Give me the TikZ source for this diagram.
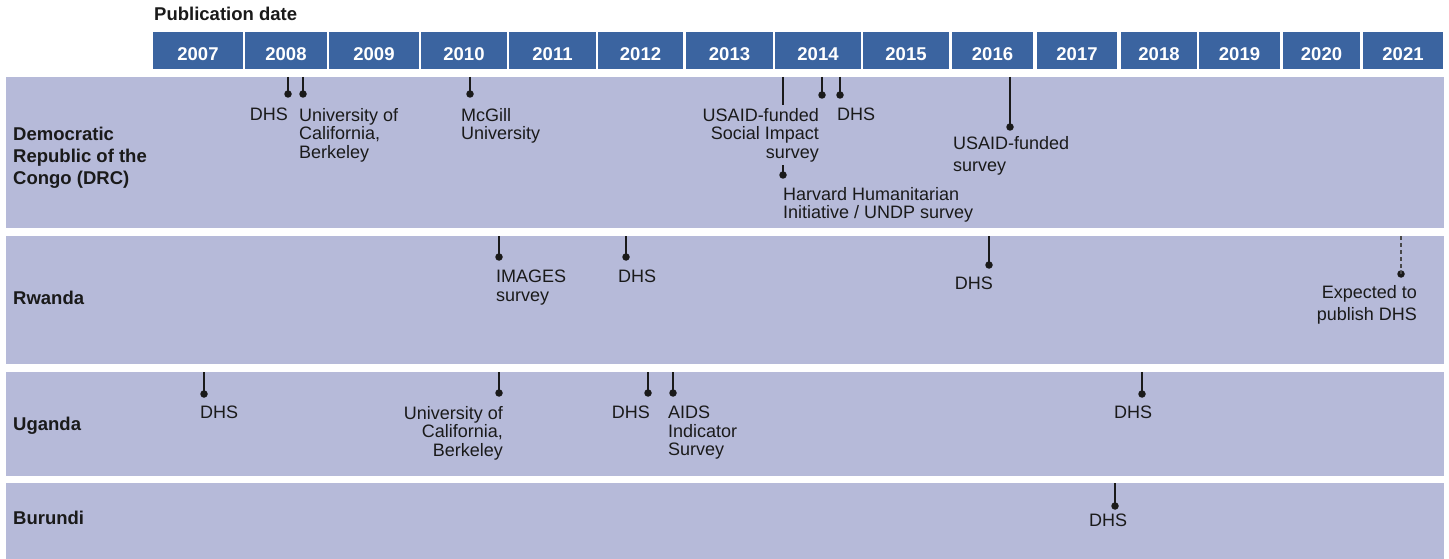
\documentclass[tikz,border=0pt]{standalone}
\usepackage{fontspec}
\setmainfont{Liberation Sans}
\definecolor{band}{RGB}{182,186,217}
\definecolor{hdr}{RGB}{59,100,160}
\definecolor{ink}{RGB}{26,26,26}
\begin{document}
\begin{tikzpicture}[x=1pt,y=-1pt,
  bandbox/.style={fill=band,draw=none},
  yearbox/.style={fill=hdr,text=white,inner sep=0pt,minimum height=37pt,text height=21pt,text depth=0pt,font=\bfseries\fontsize{18.5}{20}\selectfont},
  ctry/.style={inner sep=0pt,text=ink,align=left,font=\bfseries\fontsize{18.5}{22}\selectfont},
  lbl/.style={inner sep=0pt,text=ink,font=\fontsize{18}{18.5}\selectfont},
  lblw/.style={inner sep=0pt,text=ink,font=\fontsize{18}{22}\selectfont},
  dot/.style={circle,fill=ink,inner sep=0pt,minimum size=7.5pt},
  stem/.style={draw=ink,line width=1.4pt},
  dstem/.style={draw=ink!80,line width=1.3pt,dash pattern=on 4pt off 3pt}
]
\useasboundingbox (0,0) rectangle (1449,559);
% title
\node[inner sep=0pt,anchor=base west,text=ink,font=\bfseries\fontsize{18.5}{20}\selectfont] (title) at (154,21) {Publication date};
% year boxes
\foreach \c/\w/\yr in {198/90/2007,286/82/2008,374/90/2009,464/86/2010,552.5/87/2011,640.5/85/2012,729.5/87/2013,818/86/2014,906/86/2015,992.5/81/2016,1077/80/2017,1159/76/2018,1239.5/81/2019,1321.5/77/2020,1403/80/2021}
  \node[yearbox,minimum width=\w pt] (y\yr) at (\c,50.5) {\yr};
% bands
\fill[bandbox] (6,77) rectangle (1444,228);
\fill[bandbox] (6,236) rectangle (1444,364);
\fill[bandbox] (6,372) rectangle (1444,476);
\fill[bandbox] (6,483) rectangle (1444,559);
% countries
\node[ctry,anchor=north west] (drc) at (13,127) {Democratic\\Republic of the\\Congo (DRC)};
\node[ctry,anchor=base west] (rwa) at (13,304) {Rwanda};
\node[ctry,anchor=base west] (uga) at (13,430) {Uganda};
\node[ctry,anchor=base west] (bdi) at (13,524) {Burundi};
% top coordinates of stems
\foreach \n/\x/\yt in {m1/288/77,m2/303/77,m3/470/77,m4/822/77,m5/840/77,m6/783/77,m7/1010/77,
  r1/499/236,r2/626/236,r3/989/236,r4/1401/236,
  u1/204/372,u2/499/372,u3/648/372,u4/673/372,u5/1142/372,b1/1115/483}
  \coordinate (\n t) at (\x,\yt);
% dots
\foreach \n/\x/\yd in {m1/288/94,m2/303/94,m3/470/94,m4/822/95,m5/840/95,m6/783/175,m7/1010/127,
  r1/499/257,r2/626/257,r3/989/265,r4/1401/274,
  u1/204/394,u2/499/393,u3/648/393,u4/673/393,u5/1142/394,b1/1115/506}
  \node[dot] (\n d) at (\x,\yd) {};
% stems
\foreach \n in {m1,m2,m3,m4,m5,m6,m7,r1,r2,r3,u1,u2,u3,u4,u5,b1}
  \draw[stem] (\n t) -- (\n d.center);
\draw[dstem] (r4t) -- (r4d.center);
% labels DRC
\node[lbl,anchor=north east] (m1l) at (288,108) {DHS};
\node[lbl,anchor=north west,align=left] (m2l) at (299,108) {University of\\California,\\Berkeley};
\node[lbl,anchor=north west,align=left] (m3l) at (461,108) {McGill\\University};
\node[lbl,anchor=north east,align=right,fill=band,inner ysep=3pt] (m4l) at (819,105) {USAID-funded\\Social Impact\\survey};
\node[lbl,anchor=north west] (m5l) at (837,108) {DHS};
\node[lbl,anchor=north west,align=left] (m6l) at (783,187) {Harvard Humanitarian\\Initiative / UNDP survey};
\node[lblw,anchor=north west,align=left] (m7l) at (953,136) {USAID-funded\\survey};
% labels Rwanda
\node[lbl,anchor=north west,align=left] (r1l) at (496,270) {IMAGES\\survey};
\node[lbl,anchor=north west] (r2l) at (618,270) {DHS};
\node[lbl,anchor=north east] (r3l) at (993,277) {DHS};
\node[lblw,anchor=north east,align=right] (r4l) at (1417,285) {Expected to\\publish DHS};
% labels Uganda
\node[lbl,anchor=north west] (u1l) at (200,406) {DHS};
\node[lbl,anchor=north east,align=right] (u2l) at (503,406) {University of\\California,\\Berkeley};
\node[lbl,anchor=north east] (u3l) at (650,406) {DHS};
\node[lbl,anchor=north west,align=left] (u4l) at (668,406) {AIDS\\Indicator\\Survey};
\node[lbl,anchor=north] (u5l) at (1133,406) {DHS};
% label Burundi
\node[lbl,anchor=north] (b1l) at (1108,514) {DHS};
\end{tikzpicture}
\end{document}
